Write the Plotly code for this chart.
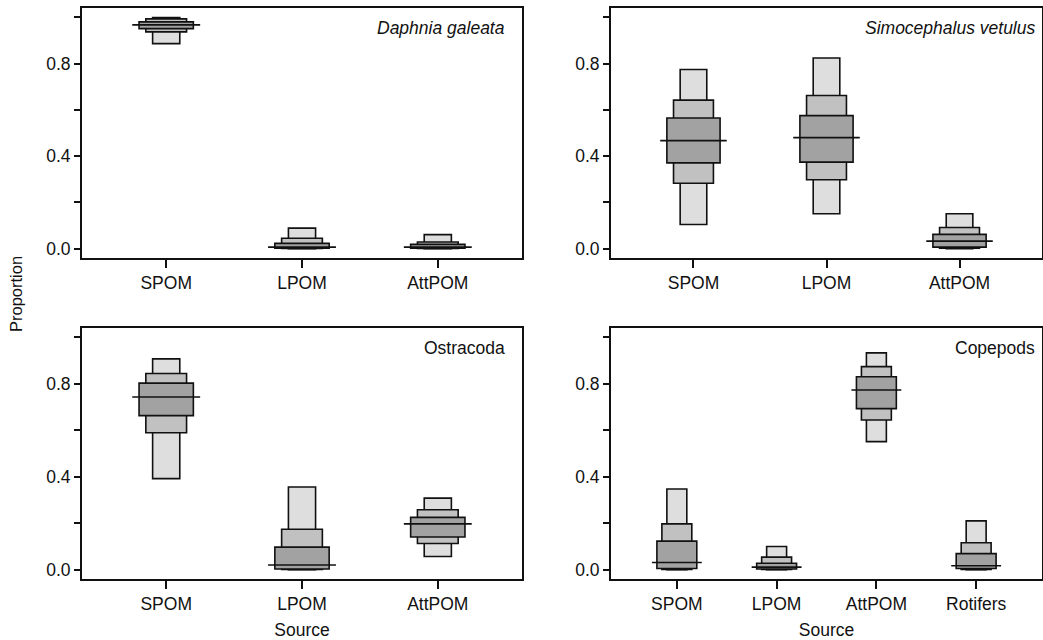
import plotly.graph_objects as go

# ---------------- data ----------------
sources3 = ["SPOM", "LPOM", "AttPOM"]
sources4 = ["SPOM", "LPOM", "AttPOM", "Rotifers"]

daphnia_lo95 = [0.886, 0.000, 0.000]
daphnia_hi95 = [0.999, 0.089, 0.061]
daphnia_lo75 = [0.937, 0.001, 0.001]
daphnia_hi75 = [0.993, 0.045, 0.029]
daphnia_lo50 = [0.951, 0.002, 0.002]
daphnia_hi50 = [0.980, 0.023, 0.019]
daphnia_med = [0.967, 0.007, 0.007]

simo_lo95 = [0.105, 0.151, 0.000]
simo_hi95 = [0.774, 0.824, 0.151]
simo_lo75 = [0.283, 0.298, 0.002]
simo_hi75 = [0.642, 0.662, 0.092]
simo_lo50 = [0.371, 0.374, 0.007]
simo_hi50 = [0.565, 0.575, 0.062]
simo_med = [0.467, 0.480, 0.033]

ostra_lo95 = [0.392, 0.000, 0.057]
ostra_hi95 = [0.907, 0.356, 0.308]
ostra_lo75 = [0.589, 0.001, 0.113]
ostra_hi75 = [0.844, 0.174, 0.258]
ostra_lo50 = [0.663, 0.003, 0.141]
ostra_hi50 = [0.803, 0.097, 0.225]
ostra_med = [0.743, 0.020, 0.197]

cope_lo95 = [0.000, 0.000, 0.551, 0.000]
cope_hi95 = [0.347, 0.100, 0.933, 0.210]
cope_lo75 = [0.001, 0.001, 0.644, 0.001]
cope_hi75 = [0.197, 0.054, 0.874, 0.116]
cope_lo50 = [0.005, 0.003, 0.693, 0.005]
cope_hi50 = [0.123, 0.028, 0.830, 0.069]
cope_med = [0.031, 0.011, 0.773, 0.017]

panel_titles = ["Daphnia galeata", "Simocephalus vetulus", "Ostracoda", "Copepods"]
y_tickvals = [0.0, 0.2, 0.4, 0.6, 0.8, 1.0]
y_ticktext = ["0.0", "", "0.4", "", "0.8", ""]

# ---------------- style ----------------
FONT = "Liberation Sans, Arial, Helvetica, sans-serif"
FS = 17.5
C95, C75, C50 = "#dedede", "#c1c1c1", "#a2a2a2"
W95, W75, W50, WMED = 0.2, 0.3, 0.4, 0.5
LW = 1.6

W, H = 1043, 640
panels = [
    dict(cats=sources3, lo95=daphnia_lo95, hi95=daphnia_hi95, lo75=daphnia_lo75, hi75=daphnia_hi75,
         lo50=daphnia_lo50, hi50=daphnia_hi50, med=daphnia_med, px=(82, 522), py=(8, 258), tx=507),
    dict(cats=sources3, lo95=simo_lo95, hi95=simo_hi95, lo75=simo_lo75, hi75=simo_hi75,
         lo50=simo_lo50, hi50=simo_hi50, med=simo_med, px=(611, 1042), py=(8, 258), tx=1037),
    dict(cats=sources3, lo95=ostra_lo95, hi95=ostra_hi95, lo75=ostra_lo75, hi75=ostra_hi75,
         lo50=ostra_lo50, hi50=ostra_hi50, med=ostra_med, px=(82, 522), py=(328, 579), tx=507),
    dict(cats=sources4, lo95=cope_lo95, hi95=cope_hi95, lo75=cope_lo75, hi75=cope_hi75,
         lo50=cope_lo50, hi50=cope_hi50, med=cope_med, px=(611, 1042), py=(328, 579), tx=1037),
]

fig = go.Figure()
layout = dict(
    width=W, height=H, margin=dict(l=0, r=0, t=0, b=0),
    paper_bgcolor="white", plot_bgcolor="white",
    barmode="overlay", showlegend=False,
    font=dict(family=FONT, size=FS, color="#111"),
)
annotations = []

for i, p in enumerate(panels):
    k = "" if i == 0 else str(i + 1)
    xa, ya = "x" + k, "y" + k
    n = len(p["cats"])
    pos = list(range(1, n + 1))
    for lo, hi, wd, col in [(p["lo95"], p["hi95"], W95, C95),
                            (p["lo75"], p["hi75"], W75, C75),
                            (p["lo50"], p["hi50"], W50, C50)]:
        fig.add_trace(go.Bar(
            x=pos, y=[h - l for l, h in zip(lo, hi)], base=lo, width=wd,
            marker=dict(color=col, line=dict(color="#111", width=LW)),
            xaxis=xa, yaxis=ya, hoverinfo="skip"))
    mx, my = [], []
    for xp, m in zip(pos, p["med"]):
        mx += [xp - WMED / 2, xp + WMED / 2, None]
        my += [m, m, None]
    fig.add_trace(go.Scatter(x=mx, y=my, mode="lines", line=dict(color="#111", width=LW),
                             xaxis=xa, yaxis=ya, hoverinfo="skip"))

    ext = 0.04 * n
    x0, x1 = p["px"]
    yt, yb = p["py"]
    xdom = [x0 / W, x1 / W]
    ydom = [1 - yb / H, 1 - yt / H]
    xkey = "xaxis" + k
    ykey = "yaxis" + k
    layout[xkey] = dict(
        domain=xdom, anchor=ya, range=[0.5 - ext, n + 0.5 + ext],
        tickvals=pos, ticktext=p["cats"], ticks="outside", ticklen=8, tickwidth=LW,
        tickcolor="#111", showline=True, linecolor="#111", linewidth=1.8, mirror=True,
        showgrid=False, zeroline=False, tickfont=dict(size=FS))
    layout[ykey] = dict(
        domain=ydom, anchor=xa, range=[-0.04, 1.04],
        tickvals=y_tickvals, ticktext=y_ticktext, ticks="outside", ticklen=6, tickwidth=LW,
        tickcolor="#111", showline=True, linecolor="#111", linewidth=1.8, mirror=True,
        showgrid=False, zeroline=False, tickfont=dict(size=FS))
    if i >= 2:
        layout[xkey]["title"] = dict(text="Source", font=dict(size=FS), standoff=12)
    title = panel_titles[i]
    italic = i < 2
    annotations.append(dict(
        text=("<i>%s</i>" % title) if italic else title,
        xref="paper", yref="paper", x=p["tx"] / W, y=1 - (yt + 20) / H,
        xanchor="right", yanchor="middle", showarrow=False, font=dict(size=FS)))

annotations.append(dict(text="Proportion", xref="paper", yref="paper",
                        x=16 / W, y=1 - 294 / H, xanchor="center", yanchor="middle",
                        textangle=-90, showarrow=False, font=dict(size=FS - 1)))
layout["annotations"] = annotations
fig.update_layout(**layout)
fig.write_html("out.html")
